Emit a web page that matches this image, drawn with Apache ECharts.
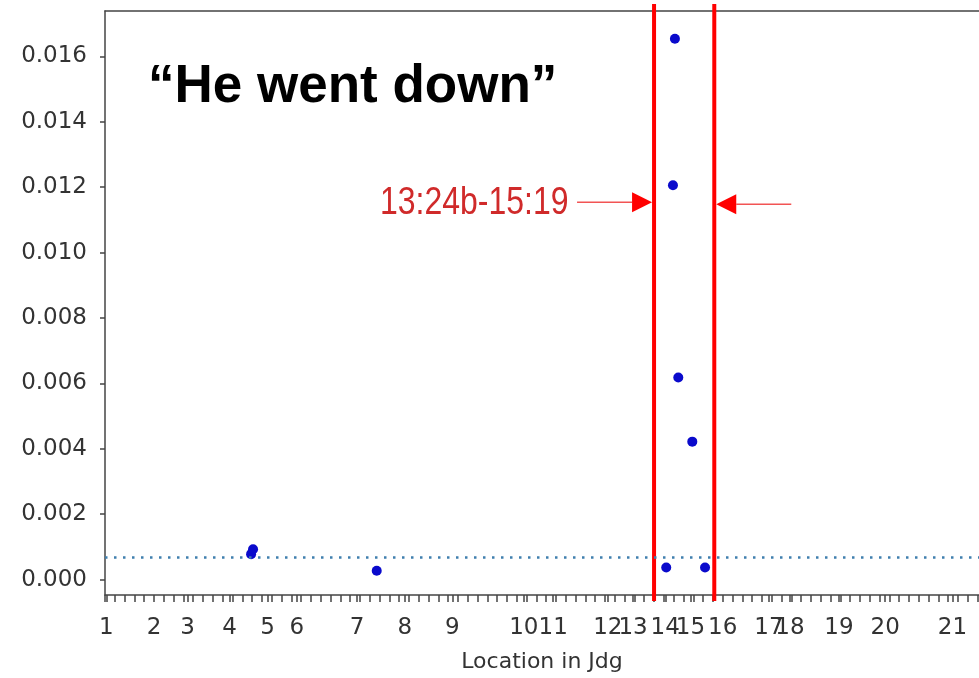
<!DOCTYPE html>
<html>
<head>
<meta charset="utf-8">
<script src="https://cdn.jsdelivr.net/npm/echarts@6/dist/echarts.min.js"></script>
<style>
  html, body { margin: 0; background: #fff; }
  #chart { width: 979px; height: 678px; }
</style>
</head>
<body>
<div id="chart"></div>
<script>
// chapter starts of Judges, in "location" units along the book
const chapterLabels = ['1', '2', '3', '4', '5', '6', '7', '8', '9', '10', '11',
    '12', '13', '14', '15', '16', '17', '18', '19', '20', '21'];
const chapterStarts = [1, 35, 59, 89, 116, 137, 180, 214, 248, 299, 320,
    359, 377, 400, 418, 441, 474, 489, 524, 557, 605];

// scatter points: location, relative frequency
const pointLocs = [104.3, 105.7, 194, 400.7, 405.5, 406.9, 409.3, 419.3, 428.4];
const pointValues = [0.00078, 0.00093, 0.00027, 0.00037, 0.01206, 0.01654, 0.00618, 0.00422, 0.00037];

// average line
const meanValue = 0.00068;

// highlighted passage 13:24b-15:19
const passageBounds = [392, 435];
const passageLabel = '13:24b-15:19';
const titleText = '\u201cHe went down\u201d';

const yTicks = [0, 0.002, 0.004, 0.006, 0.008, 0.010, 0.012, 0.014, 0.016];

const xMin = 0, xMax = 624;
const yMin = -0.00047, yMax = 0.01739;
const arrowLevel = 0.01154;

// small ticks all along the axis plus the chapter ticks
let xTicks = chapterStarts.slice();
for (let v = xMin; v <= xMax; v += 7) {
    xTicks.push(v);
}

let points = pointLocs.map(function (x, i) { return [x, pointValues[i]]; });

let myChart = echarts.init(document.getElementById('chart'));

var option = {
    backgroundColor: '#fff',
    animation: false,
    grid: {
        left: 105,
        top: 11,
        right: 0,
        bottom: 80
    },
    xAxis: [{
        type: 'value',
        min: xMin,
        max: xMax,
        name: 'Location in Jdg',
        nameLocation: 'middle',
        nameGap: 56,
        nameTextStyle: {
            fontFamily: 'DejaVu Sans',
            fontSize: 22,
            color: '#333'
        },
        axisLine: { onZero: false, lineStyle: { color: '#444', width: 1.5 } },
        axisTick: {
            customValues: xTicks,
            length: 7,
            lineStyle: { color: '#444', width: 1.5 }
        },
        axisLabel: {
            customValues: chapterStarts,
            margin: 22,
            fontFamily: 'DejaVu Sans',
            fontSize: 23,
            color: '#333',
            formatter: function (v) {
                return chapterLabels[chapterStarts.indexOf(v)];
            }
        },
        splitLine: { show: false }
    }, {
        // top frame of the plot
        type: 'value',
        position: 'top',
        min: xMin,
        max: xMax,
        axisLine: { show: true, onZero: false, lineStyle: { color: '#444', width: 1.5 } },
        axisTick: { show: false },
        axisLabel: { show: false },
        splitLine: { show: false }
    }],
    yAxis: {
        type: 'value',
        min: yMin,
        max: yMax,
        axisLine: { show: true, onZero: false, lineStyle: { color: '#444', width: 1.5 } },
        axisTick: {
            show: true,
            customValues: yTicks,
            length: 5,
            lineStyle: { color: '#444', width: 1.5 }
        },
        axisLabel: {
            customValues: yTicks,
            margin: 18,
            fontFamily: 'DejaVu Sans',
            fontSize: 23,
            color: '#333',
            formatter: function (v) { return v.toFixed(3); }
        },
        splitLine: { show: false }
    },
    series: [{
        type: 'scatter',
        data: points,
        symbolSize: 10,
        itemStyle: { color: '#0a0acc', opacity: 1 },
        z: 3,
        markLine: {
            silent: true,
            precision: 6,
            symbol: ['none', 'none'],
            label: { show: false },
            lineStyle: {
                color: '#3f7fae',
                type: [2.5, 6.5],
                width: 2.5,
                opacity: 1
            },
            data: [{ yAxis: meanValue }]
        }
    }, {
        // red passage boundaries with arrows pointing at them
        type: 'custom',
        data: passageBounds.map(function (x, i) { return [x, i]; }),
        clip: false,
        z: 4,
        renderItem: function (params, api) {
            let x = api.coord([api.value(0), 0])[0];
            let top = api.coord([0, yMax])[1];
            let bottom = api.coord([0, yMin])[1];
            let y = api.coord([0, arrowLevel])[1] + api.value(1) * 2;
            let dir = api.value(1) === 0 ? -1 : 1; // left bound: arrow comes from the left
            let tip = x + dir * 2;
            let base = tip + dir * 20;
            let tail = tip + dir * 75;
            return {
                type: 'group',
                children: [{
                    type: 'line',
                    shape: { x1: x, y1: top - 7, x2: x, y2: bottom + 6 },
                    style: { stroke: '#ff0000', lineWidth: 4 }
                }, {
                    type: 'line',
                    shape: { x1: tail, y1: y, x2: base, y2: y },
                    style: { stroke: '#f25454', lineWidth: 1.5 }
                }, {
                    type: 'polygon',
                    shape: { points: [[tip, y], [base, y - 10], [base, y + 10]] },
                    style: { fill: '#ff0000' }
                }]
            };
        }
    }],
    graphic: [{
        type: 'text',
        left: 148,
        top: 61,
        style: {
            text: titleText,
            fontFamily: 'Liberation Sans',
            fontWeight: 'bold',
            fontSize: 53,
            fill: '#000'
        }
    }, {
        type: 'text',
        x: 380,
        y: 203,
        scaleX: 0.82,
        style: {
            text: passageLabel,
            fontFamily: 'Liberation Sans',
            fontSize: 39,
            fill: '#d02a2a',
            align: 'left',
            verticalAlign: 'middle'
        }
    }]
};

myChart.setOption(option);
window.addEventListener('resize', function () {
    myChart.resize();
});
</script>
</body>
</html>
